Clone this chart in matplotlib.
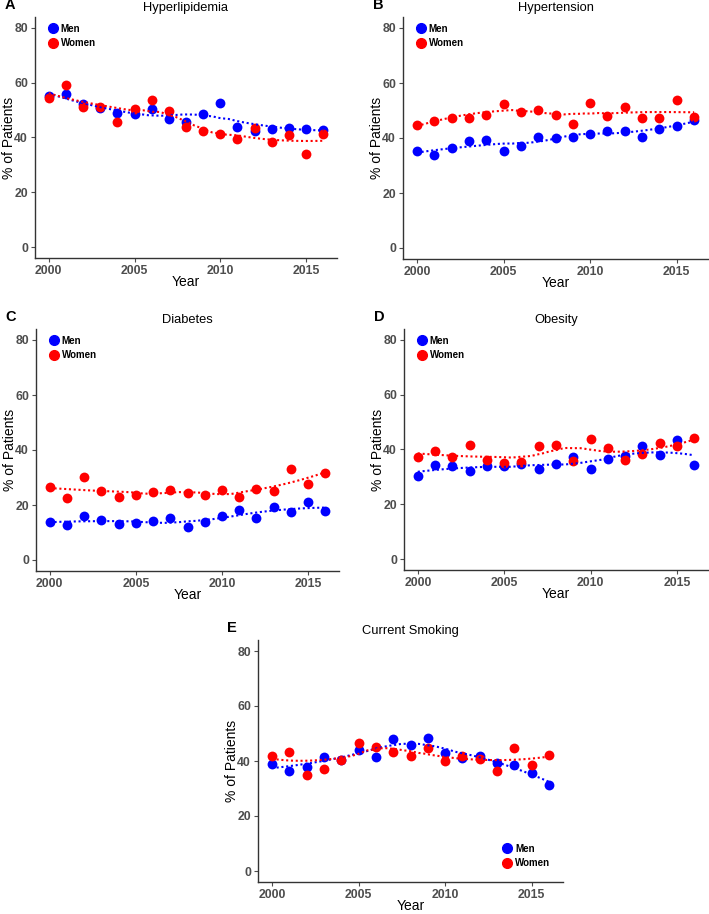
import numpy as np
import matplotlib
matplotlib.use('Agg')
import matplotlib.pyplot as plt
from matplotlib.lines import Line2D

plt.rcParams['font.family'] = ['Liberation Sans', 'DejaVu Sans']

years = np.arange(2000, 2017)

titles = ['Hyperlipidemia', 'Hypertension', 'Diabetes', 'Obesity', 'Current Smoking']
letters = ['A', 'B', 'C', 'D', 'E']

men_hyperlip = [55.2, 56.0, 52.2, 50.7, 49.1, 48.7, 50.5, 46.9, 45.7, 48.4, 52.6, 43.9, 42.3, 43.0, 43.5, 43.2, 42.8]
women_hyperlip = [54.4, 59.2, 51.0, 51.3, 45.6, 50.3, 53.6, 49.5, 43.9, 42.2, 41.1, 39.5, 43.5, 38.4, 40.8, 33.8, 41.2]

men_hypert = [35.1, 34.0, 36.4, 38.9, 39.3, 35.4, 37.0, 40.4, 40.0, 40.2, 41.5, 42.7, 42.6, 40.4, 43.4, 44.3, 46.7]
women_hypert = [44.6, 46.3, 47.2, 47.4, 48.3, 52.5, 49.4, 50.1, 48.3, 45.2, 52.6, 48.1, 51.1, 47.2, 47.2, 54.0, 47.5]

men_diab = [13.8, 12.7, 16.1, 14.4, 13.0, 13.6, 14.2, 15.2, 12.0, 13.8, 16.1, 18.1, 15.2, 19.2, 17.5, 21.0, 17.9]
women_diab = [26.5, 22.5, 30.3, 25.2, 22.9, 23.6, 24.7, 25.6, 24.5, 23.6, 25.3, 22.9, 25.8, 25.1, 33.0, 27.6, 31.8]

men_obes = [30.4, 34.5, 33.8, 32.3, 34.0, 33.9, 34.7, 32.7, 34.7, 37.4, 32.9, 36.7, 37.8, 41.1, 37.9, 43.5, 34.5]
women_obes = [37.1, 39.4, 37.3, 41.6, 36.0, 35.0, 35.4, 41.1, 41.8, 35.7, 44.0, 40.4, 36.0, 38.2, 42.3, 41.1, 44.1]

men_smoke = [38.8, 36.4, 38.0, 41.5, 40.2, 44.1, 41.4, 48.0, 45.8, 48.2, 43.0, 41.1, 42.0, 39.1, 38.7, 35.8, 31.4]
women_smoke = [41.9, 43.1, 34.8, 37.1, 40.3, 46.6, 45.0, 43.3, 42.0, 44.7, 39.9, 41.7, 40.8, 36.5, 44.8, 38.7, 42.1]

men_all = [men_hyperlip, men_hypert, men_diab, men_obes, men_smoke]
women_all = [women_hyperlip, women_hypert, women_diab, women_obes, women_smoke]

BLUE = '#0000FF'
RED = '#FF0000'
GREY = '#4D4D4D'


def loess(x, y, xs, span=0.75):
    # ggplot-style loess: local quadratic, tricube weights
    x = np.asarray(x, float)
    y = np.asarray(y, float)
    q = int(np.floor(span * len(x)))
    out = []
    for x0 in xs:
        d = np.abs(x - x0)
        h = np.sort(d)[q - 1]
        w = np.clip(1 - (d / h) ** 3, 0, None) ** 3
        X = np.column_stack([np.ones_like(x), x - x0, (x - x0) ** 2])
        W = np.diag(w)
        beta = np.linalg.lstsq(X.T @ W @ X, X.T @ W @ y, rcond=None)[0]
        out.append(beta[0])
    return np.array(out)


W, H = 709, 914
fig = plt.figure(figsize=(W / 100, H / 100), dpi=100)

# axes boxes in pixels: left, top, right, bottom
boxes = [(35, 17, 337, 258), (403, 17, 708, 259),
         (36, 329, 339, 571), (404, 329, 708, 570),
         (258, 640, 563, 882)]

xs = np.linspace(2000, 2016, 120)

for i, (l, t, r, b) in enumerate(boxes):
    ax = fig.add_axes([l / W, 1 - b / H, (r - l) / W, (b - t) / H])
    men = men_all[i]
    women = women_all[i]
    ax.scatter(years, men, s=50, color=BLUE, zorder=3, linewidths=0)
    ax.scatter(years, women, s=50, color=RED, zorder=3, linewidths=0)
    ax.plot(xs, loess(years, men, xs), color=BLUE, lw=1.5, ls=(0, (1, 1.3)), zorder=4)
    ax.plot(xs, loess(years, women, xs), color=RED, lw=1.5, ls=(0, (1, 1.3)), zorder=4)

    ax.set_xlim(1999.2, 2016.8)
    ax.set_ylim(-4, 84)
    ax.set_xticks([2000, 2005, 2010, 2015])
    ax.set_yticks([0, 20, 40, 60, 80])
    ax.tick_params(labelsize=8.8, colors=GREY, length=3, width=0.8, pad=2)
    for lab in ax.get_xticklabels() + ax.get_yticklabels():
        lab.set_fontweight('bold')
        lab.set_color(GREY)
    for s in ['top', 'right']:
        ax.spines[s].set_visible(False)
    for s in ['left', 'bottom']:
        ax.spines[s].set_color('#333333')
        ax.spines[s].set_linewidth(1.0)
    ax.set_xlabel('Year', fontsize=10, labelpad=-1.5)
    ax.set_ylabel('% of Patients', fontsize=10)
    ax.yaxis.set_label_coords(-19 / (r - l), 0.5)
    ax.set_title(titles[i], fontsize=9.3, pad=4)
    ax.text(-0.1, 1.02, letters[i], transform=ax.transAxes, fontsize=10.5,
            fontweight='bold', va='bottom', ha='left')

    handles = [Line2D([0], [0], color=BLUE, marker='o', markersize=7, ls=(0, (1, 1)), lw=1.5),
               Line2D([0], [0], color=RED, marker='o', markersize=7, ls=(0, (1, 1)), lw=1.5)]
    if i < 4:
        leg = ax.legend(handles, ['Men', 'Women'], loc='upper left', bbox_to_anchor=(0.02, 1.0),
                        frameon=False, handlelength=1.0, handletextpad=0.3,
                        labelspacing=0.45, borderpad=0.2, prop={'size': 7, 'weight': 'bold'})
    else:
        leg = ax.legend(handles, ['Men', 'Women'], loc='lower right', bbox_to_anchor=(0.98, 0.03),
                        frameon=False, handlelength=1.0, handletextpad=0.3,
                        labelspacing=0.45, borderpad=0.2, prop={'size': 7, 'weight': 'bold'})

fig.savefig('out.png', dpi=100)
